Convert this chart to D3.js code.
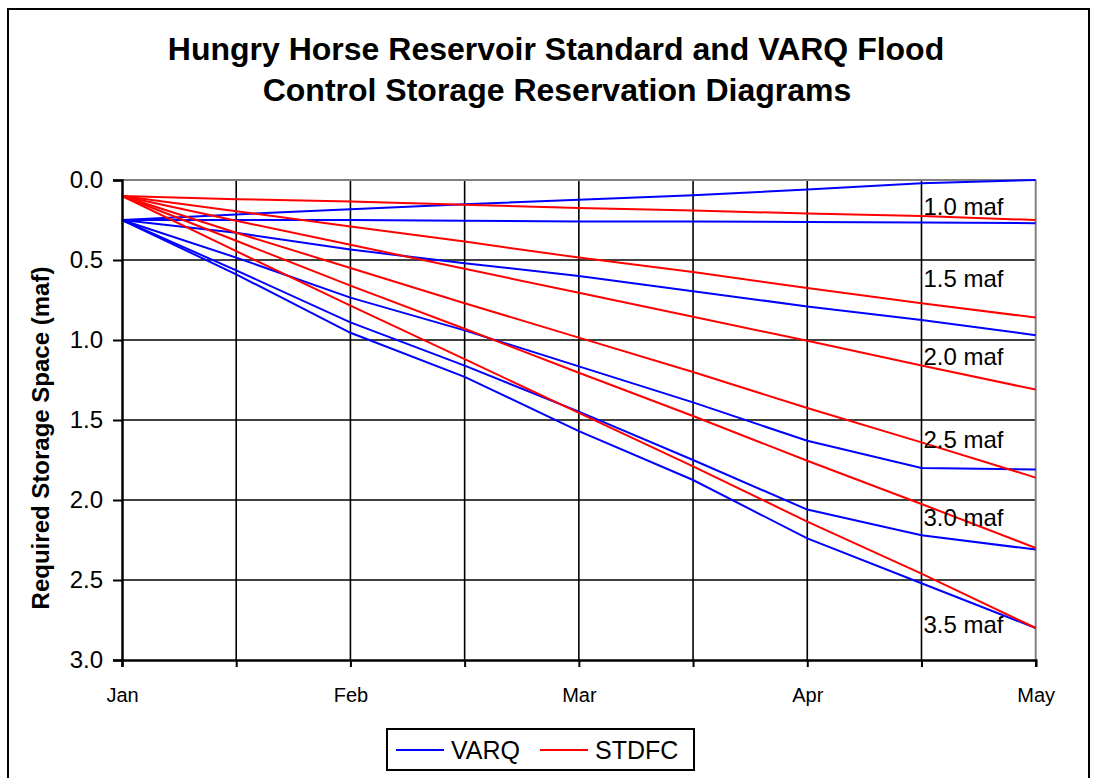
<!DOCTYPE html>
<html>
<head>
<meta charset="utf-8">
<script src="https://cdn.jsdelivr.net/npm/d3@7"></script>
<style>
  html, body { margin: 0; padding: 0; background: #fff; }
  svg { display: block; font-family: Arial, "Liberation Sans", sans-serif; }
</style>
</head>
<body>
<svg id="chart" width="1094" height="778"></svg>
<script>
// ---- data ----
const categories = ["Jan 1","Jan 15","Feb 1","Feb 15","Mar 1","Mar 15","Apr 1","Apr 15","May 1"];
const xTickLabels = ["Jan","","Feb","","Mar","","Apr","","May"];
const yTickValues = [0, 0.5, 1.0, 1.5, 2.0, 2.5, 3.0];
const forecastLabels = ["1.0 maf","1.5 maf","2.0 maf","2.5 maf","3.0 maf","3.5 maf"];

// VARQ (blue)
const varqA = [0.25, 0.215, 0.183, 0.152, 0.123, 0.095, 0.060, 0.020, 0.000];
const varqB = [0.25, 0.250, 0.250, 0.255, 0.260, 0.260, 0.262, 0.266, 0.270];
const varqC = [0.25, 0.330, 0.435, 0.520, 0.600, 0.695, 0.790, 0.875, 0.970];
const varqD = [0.25, 0.485, 0.735, 0.940, 1.165, 1.390, 1.630, 1.800, 1.810];
const varqE = [0.25, 0.565, 0.890, 1.160, 1.448, 1.750, 2.060, 2.220, 2.310];
const varqF = [0.25, 0.590, 0.955, 1.230, 1.570, 1.875, 2.240, 2.520, 2.800];

// STDFC (red)
const stdA = [0.10, 0.120, 0.135, 0.155, 0.175, 0.190, 0.210, 0.225, 0.250];
const stdB = [0.10, 0.195, 0.290, 0.385, 0.485, 0.575, 0.675, 0.770, 0.860];
const stdC = [0.10, 0.255, 0.405, 0.555, 0.705, 0.855, 1.005, 1.160, 1.310];
const stdD = [0.10, 0.330, 0.550, 0.770, 0.985, 1.200, 1.425, 1.640, 1.860];
const stdE = [0.10, 0.380, 0.660, 0.930, 1.205, 1.475, 1.755, 2.025, 2.300];
const stdF = [0.10, 0.445, 0.785, 1.120, 1.455, 1.790, 2.135, 2.460, 2.800];

const varqSeries = [varqA, varqB, varqC, varqD, varqE, varqF];
const stdSeries  = [stdA, stdB, stdC, stdD, stdE, stdF];

// ---- layout ----
const svg = d3.select("#chart");
const L = 122, R = 1035.7, T = 180, B = 660;

const x = d3.scalePoint().domain(d3.range(categories.length)).range([L, R]).padding(0);
const y = d3.scaleLinear().domain([0, 3]).range([T, B]);

// outer border
svg.append("rect").attr("x", 8).attr("y", 9).attr("width", 1081).attr("height", 800)
  .attr("fill", "none").attr("stroke", "#000").attr("stroke-width", 2);

// title
const title1 = "Hungry Horse Reservoir Standard and VARQ Flood";
const title2 = "Control Storage Reservation Diagrams";
svg.append("text").attr("x", 556).attr("y", 60).attr("text-anchor", "middle")
  .attr("font-size", 32).attr("font-weight", "bold").text(title1);
svg.append("text").attr("x", 557).attr("y", 101).attr("text-anchor", "middle")
  .attr("font-size", 32).attr("font-weight", "bold").text(title2);

// gridlines
const g = svg.append("g");
g.selectAll("line.hg").data(yTickValues.filter(v => v > 0 && v < 3)).join("line")
  .attr("x1", L).attr("x2", R).attr("y1", d => y(d)).attr("y2", d => y(d))
  .attr("stroke", "#000").attr("stroke-width", 1.7);
g.selectAll("line.vg").data(d3.range(1, categories.length - 1)).join("line")
  .attr("x1", d => x(d)).attr("x2", d => x(d)).attr("y1", T).attr("y2", B)
  .attr("stroke", "#000").attr("stroke-width", 1.6);

// top & right plot border (gray)
svg.append("line").attr("x1", L).attr("x2", R).attr("y1", T).attr("y2", T)
  .attr("stroke", "#808080").attr("stroke-width", 2);
svg.append("line").attr("x1", R).attr("x2", R).attr("y1", T).attr("y2", B)
  .attr("stroke", "#808080").attr("stroke-width", 2);

// series
const line = d3.line().x((d, i) => x(i)).y(d => y(d));
svg.append("g").selectAll("path").data(varqSeries).join("path")
  .attr("d", line).attr("fill", "none").attr("stroke", "#0000FF").attr("stroke-width", 2);
svg.append("g").selectAll("path").data(stdSeries).join("path")
  .attr("d", line).attr("fill", "none").attr("stroke", "#FF0000").attr("stroke-width", 2);

// axes
const yAxis = d3.axisLeft(y).tickValues(yTickValues).tickFormat(d3.format(".1f"))
  .tickSize(9).tickPadding(10);
const ya = svg.append("g").attr("transform", `translate(${L},0)`).call(yAxis);
ya.select(".domain").attr("stroke", "#000").attr("stroke-width", 2.5);
ya.selectAll(".tick line").attr("stroke", "#000").attr("stroke-width", 2);
ya.selectAll(".tick text").attr("font-size", 24).attr("fill", "#000")
  .attr("font-family", "Arial, 'Liberation Sans', sans-serif");

const xAxis = d3.axisBottom(x).tickFormat(i => xTickLabels[i]).tickSize(7).tickPadding(21);
const xa = svg.append("g").attr("transform", `translate(0,${B})`).call(xAxis);
xa.select(".domain").attr("stroke", "#000").attr("stroke-width", 2.5);
xa.selectAll(".tick line").attr("stroke", "#000").attr("stroke-width", 2);
xa.selectAll(".tick text").attr("font-size", 20).attr("fill", "#000")
  .attr("font-family", "Arial, 'Liberation Sans', sans-serif");

// y axis title
svg.append("text").attr("transform", "translate(49,438) rotate(-90)")
  .attr("text-anchor", "middle").attr("font-size", 24).attr("font-weight", "bold")
  .text("Required Storage Space (maf)");

// forecast labels
const labelLevels = [0.22, 0.67, 1.155, 1.675, 2.163, 2.83];
svg.append("g").selectAll("text").data(forecastLabels).join("text")
  .attr("x", x(7) + 2).attr("y", (d, i) => y(labelLevels[i]))
  .attr("font-size", 24).attr("fill", "#000").text(d => d);

// legend
const lg = svg.append("g");
lg.append("rect").attr("x", 387).attr("y", 729).attr("width", 307).attr("height", 41)
  .attr("fill", "#fff").attr("stroke", "#000").attr("stroke-width", 2);
const legendItems = [{name: "VARQ", color: "#0000FF", x0: 396}, {name: "STDFC", color: "#FF0000", x0: 540}];
legendItems.forEach(it => {
  lg.append("line").attr("x1", it.x0).attr("x2", it.x0 + 48).attr("y1", 750).attr("y2", 750)
    .attr("stroke", it.color).attr("stroke-width", 2);
  lg.append("text").attr("x", it.x0 + 55).attr("y", 759).attr("font-size", 25).text(it.name);
});
</script>
</body>
</html>
